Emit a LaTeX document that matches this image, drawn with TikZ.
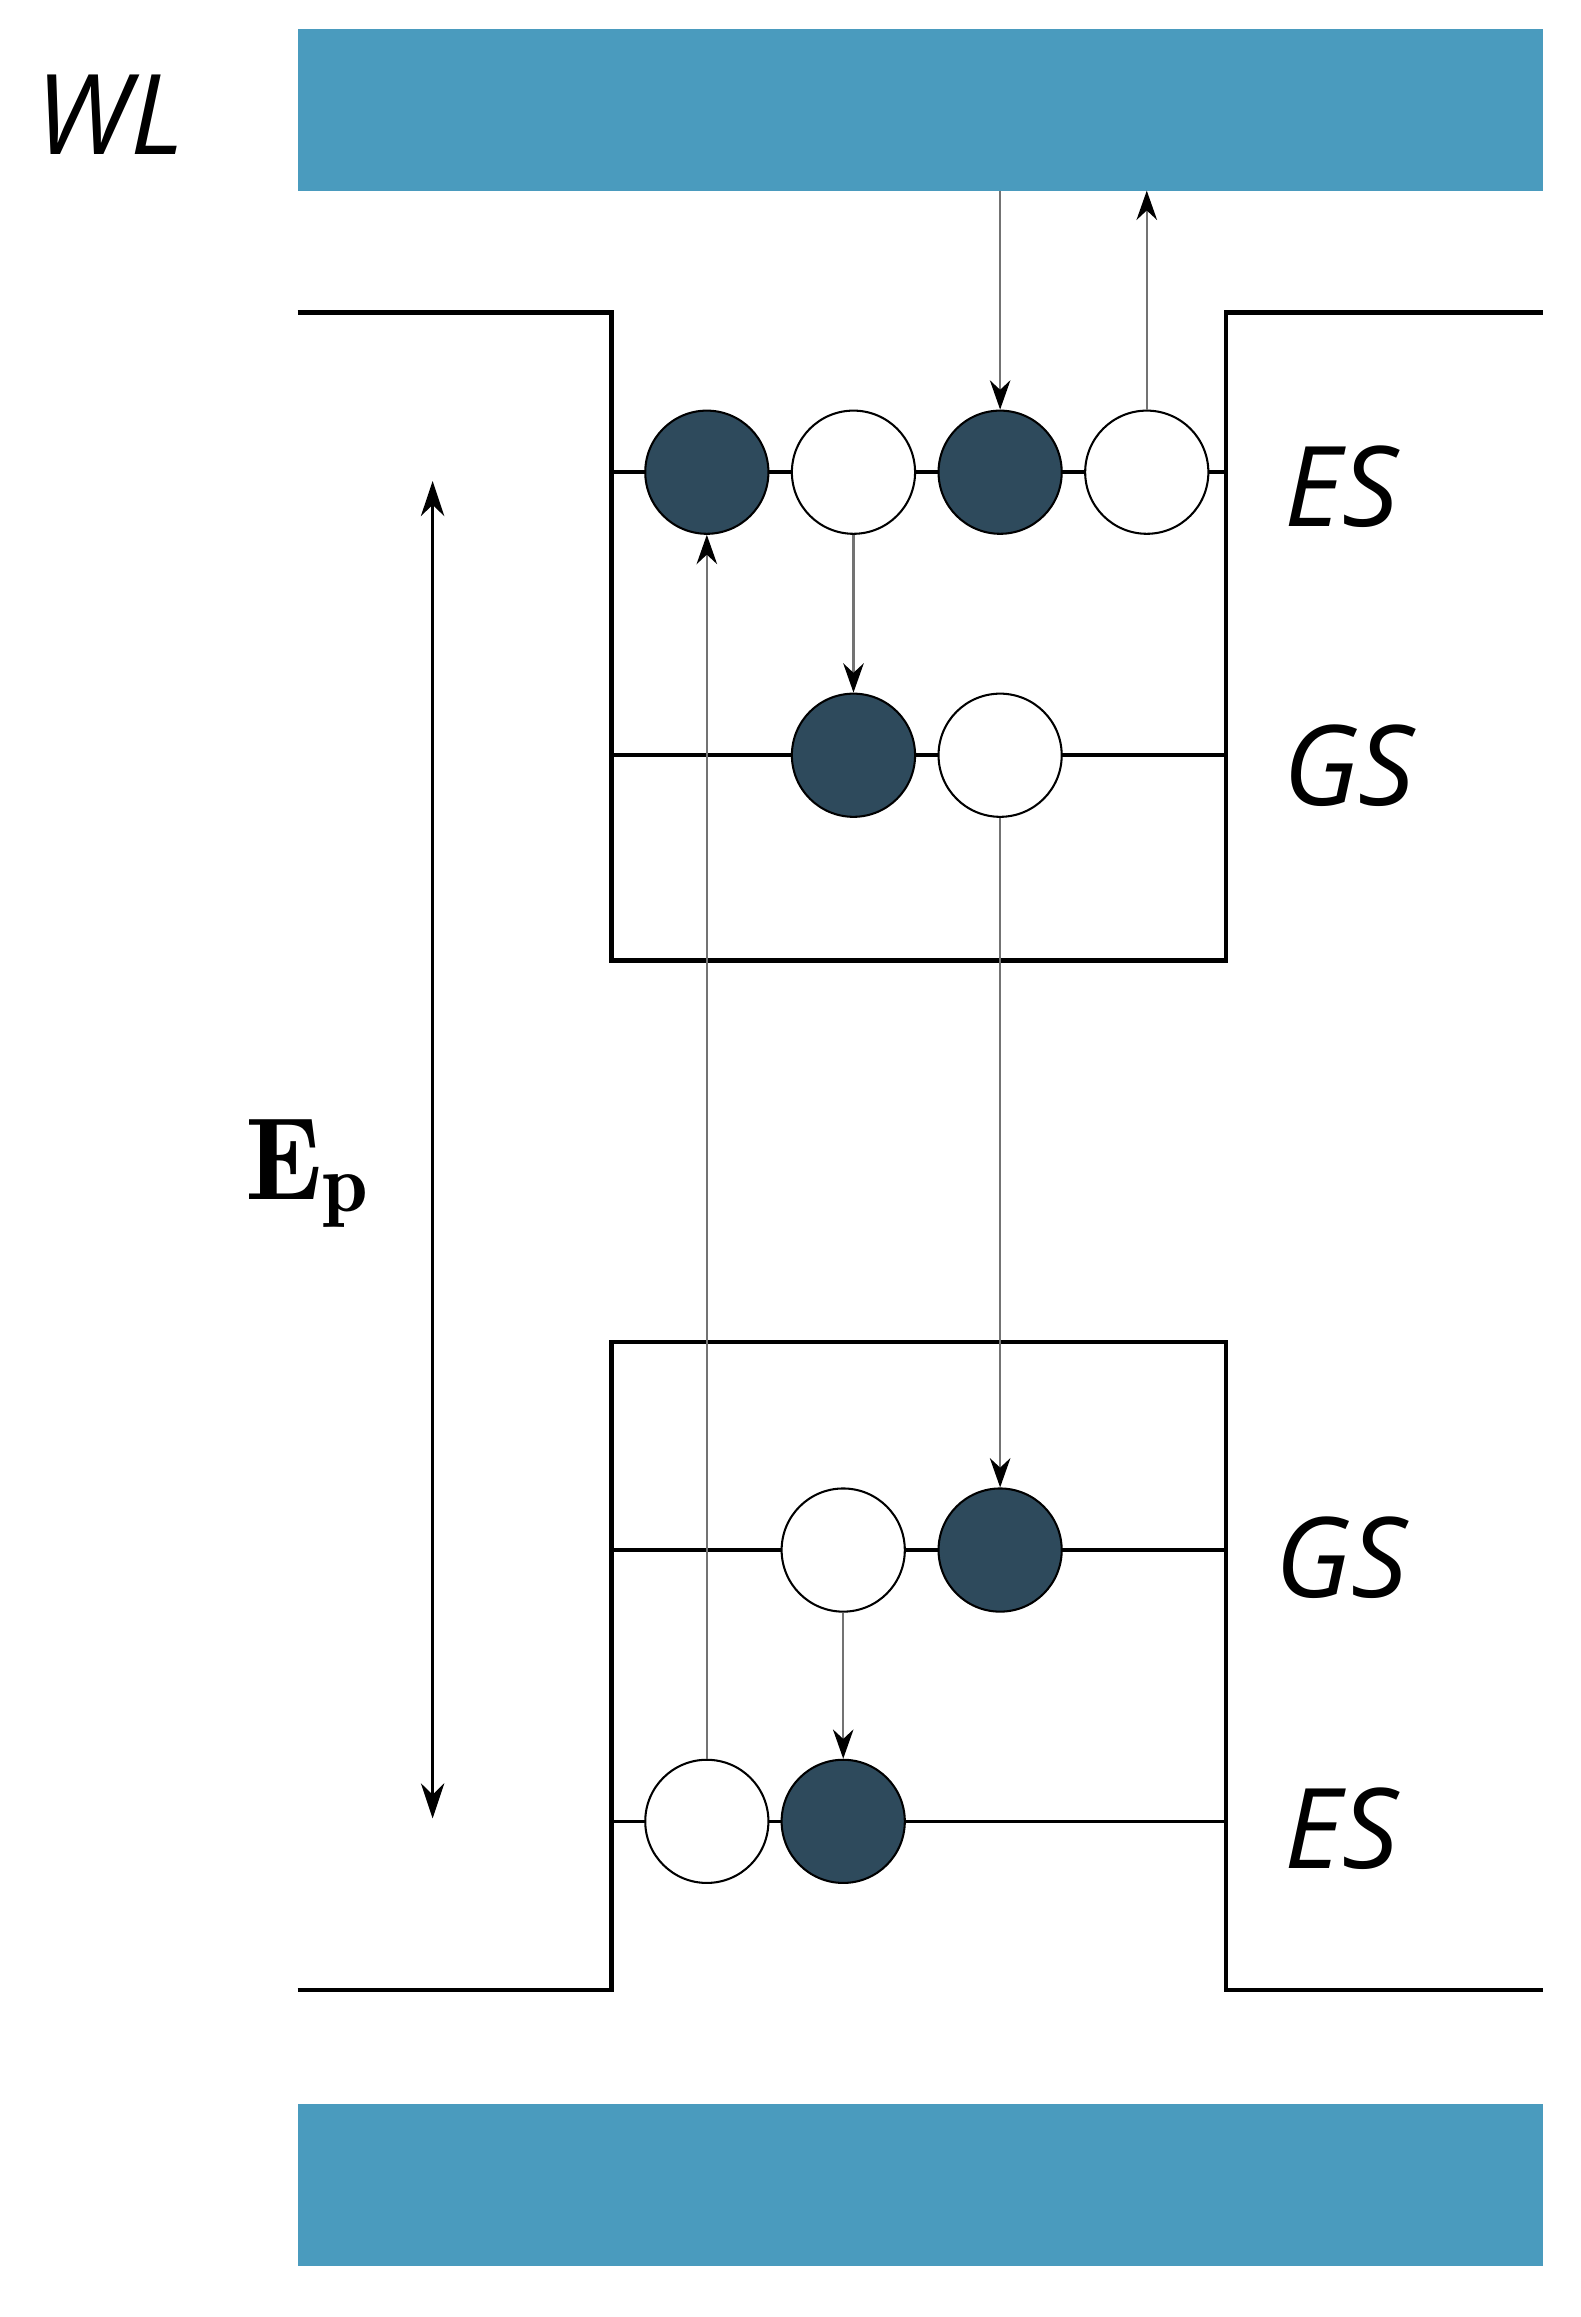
\documentclass[tikz,border=0pt]{standalone}
\usepackage{fontspec}
\setsansfont{Open Sans}
\usetikzlibrary{arrows.meta}
\definecolor{barblue}{HTML}{4A9BBE}
\definecolor{dot}{HTML}{2E4A5C}
\begin{document}
\begin{tikzpicture}[x=0.5pt,y=-0.5pt,
  full/.style={circle,draw=black,line width=0.7pt,fill=dot,minimum size=42pt,inner sep=0pt},
  empty/.style={circle,draw=black,line width=0.7pt,fill=white,minimum size=42pt,inner sep=0pt},
  lab/.style={font=\sffamily\itshape\fontsize{38}{40}\selectfont},
  trans/.style={draw=black!55,line width=0.8pt,-{Stealth[length=10pt,width=7pt,black]}},
  wall/.style={line width=1.5pt}]
\useasboundingbox (0,0) rectangle (1078,1580);
\fill[barblue] (203,20) rectangle (1052,130);
\fill[barblue] (203,1435) rectangle (1052,1545);
\coordinate (topbar) at (682,130);
\coordinate (topbar2) at (782,130);
\node[lab] at (75,78) {WL};
\draw[wall] (203,213) -- (417,213) -- (417,655) -- (836,655) -- (836,213) -- (1052,213);
\draw[wall] (203,1357) -- (417,1357) -- (417,915) -- (836,915) -- (836,1357) -- (1052,1357);
\draw[line width=1.2pt] (417,322) -- (836,322);
\draw[line width=1.2pt] (417,515) -- (836,515);
\draw[line width=1.2pt] (417,1057) -- (836,1057);
\draw[line width=1.2pt] (417,1242) -- (836,1242);
\node[full] (e1) at (482,322) {};
\node[empty] (e2) at (582,322) {};
\node[full] (e3) at (682,322) {};
\node[empty] (e4) at (782,322) {};
\node[full] (g1) at (582,515) {};
\node[empty] (g2) at (682,515) {};
\node[empty] (h1) at (575,1057) {};
\node[full] (h2) at (682,1057) {};
\node[empty] (k1) at (482,1242) {};
\node[full] (k2) at (575,1242) {};
\node[lab] at (915,332) {ES};
\node[lab] at (920,522) {GS};
\node[lab] at (915,1062) {GS};
\node[lab] at (915,1247) {ES};
\draw[trans] (topbar) -- (e3.north);
\draw[trans] (e4.north) -- (topbar2);
\draw[trans] (e2.south) -- (g1.north);
\draw[trans] (k1.north) -- (e1.south);
\draw[trans] (g2.south) -- (h2.north);
\draw[trans] (h1.south) -- (k2.north);
\coordinate (ea) at (295,328);
\coordinate (eb) at (295,1240);
\draw[line width=0.8pt,{Stealth[length=12pt,width=8pt]}-{Stealth[length=12pt,width=8pt]}] (ea) -- (eb);
\node at (210,800) {\fontsize{40}{42}\selectfont$\mathbf{E}_{\mathbf{p}}$};
\end{tikzpicture}
\end{document}
